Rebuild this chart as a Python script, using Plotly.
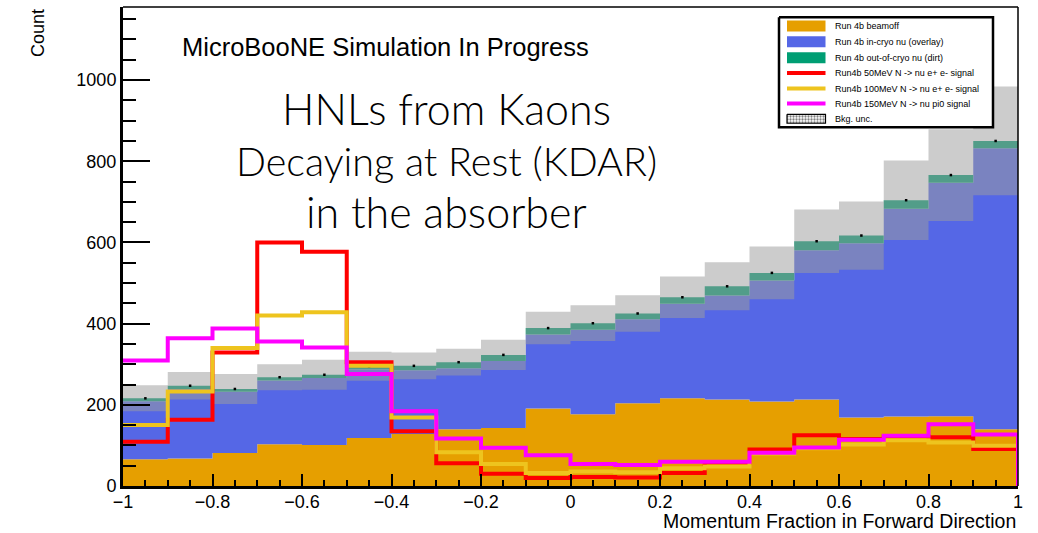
import numpy as np
import plotly.graph_objects as go

# ---- histogram contents: 20 bins of momentum fraction from -1 to 1 ----
bin_edges = [-1.0, -0.9, -0.8, -0.7, -0.6, -0.5, -0.4, -0.3, -0.2, -0.1, 0.0,
             0.1, 0.2, 0.3, 0.4, 0.5, 0.6, 0.7, 0.8, 0.9, 1.0]

beamoff = [66, 68, 81, 103, 101, 118, 128, 140, 143, 191,
           177, 204, 216, 213, 208, 213, 169, 171, 172, 140]
overlay = [143, 171, 151, 157, 165, 169, 157, 150, 165, 182,
           208, 207, 233, 256, 298, 368, 429, 512, 575, 692]
dirt = [7, 8, 7, 8, 8, 8, 11, 15, 15, 16,
        16, 14, 16, 23, 19, 22, 19, 21, 19, 18]
bkg_unc = [32, 34, 37, 32, 37, 36, 33, 33, 37, 40,
           44, 45, 51, 59, 65, 78, 84, 98, 113, 134]

sig_50 = [109, 163, 329, 600, 577, 305, 135, 56, 30, 20,
          22, 21, 32, 58, 90, 125, 116, 122, 120, 91]
sig_100 = [150, 233, 340, 420, 428, 296, 169, 83, 54, 32,
           36, 34, 44, 48, 80, 93, 102, 113, 107, 99]
sig_150 = [309, 364, 388, 356, 341, 276, 184, 117, 94, 76,
           54, 52, 60, 60, 82, 95, 114, 124, 152, 127]

x_tick_vals = [-1, -0.8, -0.6, -0.4, -0.2, 0, 0.2, 0.4, 0.6, 0.8, 1]
x_tick_text = ["\u22121", "\u22120.8", "\u22120.6", "\u22120.4", "\u22120.2",
               "0", "0.2", "0.4", "0.6", "0.8", "1"]
y_tick_vals = [0, 200, 400, 600, 800, 1000]

legend_labels = [
    "Run 4b beamoff",
    "Run 4b in-cryo nu (overlay)",
    "Run 4b out-of-cryo nu (dirt)",
    "Run4b 50MeV N -> nu e+ e- signal",
    "Run4b 100MeV N -> nu e+ e- signal",
    "Run4b 150MeV N -> nu pi0 signal",
    "Bkg. unc.",
]

C_BEAMOFF = "#E69F00"
C_OVERLAY = "#5567E6"
C_DIRT = "#009E73"
C_BAND = "rgba(157,157,157,0.52)"
C_S50 = "#FF0000"
C_S100 = "#EEC41E"
C_S150 = "#FF00FF"

FONT = "Liberation Sans, Arial, Helvetica, sans-serif"
TITLE_FONT = "Lato, Roboto, sans-serif"

edges = np.array(bin_edges)
centers = 0.5 * (edges[:-1] + edges[1:])
b = np.array(beamoff, float)
o = np.array(overlay, float)
d = np.array(dirt, float)
u = np.array(bkg_unc, float)
total = b + o + d


def stair(vals):
    """Step outline over the bin edges (for 'hv' line shape)."""
    v = list(vals)
    return list(edges), v + [v[-1]]


def open_stair(vals):
    """Step outline that drops back to the x axis after the last bin."""
    v = list(vals)
    xs = list(edges[:-1]) + [edges[-1], edges[-1]]
    ys = v + [v[-1], 0]
    return xs, ys


fig = go.Figure()

# stacked backgrounds
for top, color, fill in [(b, C_BEAMOFF, "tozeroy"),
                         (b + o, C_OVERLAY, "tonexty"),
                         (total, C_DIRT, "tonexty")]:
    xs, ys = stair(top)
    fig.add_trace(go.Scatter(x=xs, y=ys, mode="lines", line=dict(width=0, shape="hv"),
                             fill=fill, fillcolor=color, hoverinfo="skip"))

# background uncertainty band
xs, ys = stair(total - u)
fig.add_trace(go.Scatter(x=xs, y=ys, mode="lines", line=dict(width=0, shape="hv"),
                         hoverinfo="skip"))
xs, ys = stair(total + u)
fig.add_trace(go.Scatter(x=xs, y=ys, mode="lines", line=dict(width=0, shape="hv"),
                         fill="tonexty", fillcolor=C_BAND, hoverinfo="skip"))

# total prediction markers
fig.add_trace(go.Scatter(x=centers, y=total, mode="markers",
                         marker=dict(symbol="square", size=2.5, color="black"),
                         hoverinfo="skip"))

# signal histograms
for vals, color in [(sig_50, C_S50), (sig_100, C_S100), (sig_150, C_S150)]:
    xs, ys = open_stair(vals)
    fig.add_trace(go.Scatter(x=xs, y=ys, mode="lines",
                             line=dict(color=color, width=4, shape="hv"),
                             hoverinfo="skip"))

# ---- legend, laid out in pixel units on an overlay axis pair ----
PL, PR, PT, PB = 123.0, 1018.0, 6.7, 486.25


def px(xp):
    return (xp - PL) / (PR - PL)


def py(yp):
    return (PB - yp) / (PB - PT)


box = (779, 17, 993, 127)
fig.add_trace(go.Scatter(
    x=[px(box[0]), px(box[2]), px(box[2]), px(box[0]), px(box[0])],
    y=[py(box[1]), py(box[1]), py(box[3]), py(box[3]), py(box[1])],
    mode="lines", fill="toself", fillcolor="white",
    line=dict(color="black", width=2.5), xaxis="x2", yaxis="y2", hoverinfo="skip"))

row_y = [25.8, 41.6, 57.4, 72.8, 88.3, 103.4, 118.6]
sx0, sx1 = 787, 825.5
# patterned glyph for the uncertainty entry
gy = row_y[6]
fig.add_trace(go.Scatter(
    x=[px(sx0), px(sx1), px(sx1), px(sx0), px(sx0)],
    y=[py(gy - 4.5), py(gy - 4.5), py(gy + 4.5), py(gy + 4.5), py(gy - 4.5)],
    mode="lines", fill="toself", fillcolor="white",
    fillpattern=dict(shape=".", fgcolor="black", bgcolor="white", size=3, solidity=0.45),
    line=dict(color="black", width=1.2), xaxis="x2", yaxis="y2", hoverinfo="skip"))

shapes = []
for yy, color in zip(row_y[:3], [C_BEAMOFF, C_OVERLAY, C_DIRT]):
    shapes.append(dict(type="rect", xref="paper", yref="paper",
                       x0=px(sx0), x1=px(sx1), y0=py(yy - 5.5), y1=py(yy + 5.5),
                       fillcolor=color, line=dict(width=0)))
for yy, color in zip(row_y[3:6], [C_S50, C_S100, C_S150]):
    shapes.append(dict(type="line", xref="paper", yref="paper",
                       x0=px(sx0), x1=px(sx1), y0=py(yy), y1=py(yy),
                       line=dict(color=color, width=4)))

# thin frame on top and right
shapes.append(dict(type="line", xref="paper", yref="paper", x0=0, x1=1, y0=1, y1=1,
                   line=dict(color="black", width=1.5)))
shapes.append(dict(type="line", xref="paper", yref="paper", x0=1, x1=1, y0=0, y1=1,
                   line=dict(color="black", width=1.5)))

annotations = []
for yy, label in zip(row_y, legend_labels):
    annotations.append(dict(xref="paper", yref="paper", x=px(833), y=py(yy),
                            xanchor="left", yanchor="middle", showarrow=False,
                            text=label, font=dict(family=FONT, size=9, color="black")))

annotations.append(dict(xref="paper", yref="paper", x=px(180), y=py(47),
                        xanchor="left", yanchor="middle", showarrow=False,
                        text="MicroBooNE Simulation In Progress",
                        font=dict(family=FONT, size=25.5, color="black")))

for yy, line, size in zip([108, 160, 211],
                          ["HNLs from Kaons", "Decaying at Rest (KDAR)", "in the absorber"],
                          [43, 39.5, 43]):
    annotations.append(dict(xref="paper", yref="paper", x=px(446), y=py(yy),
                            xanchor="center", yanchor="middle", showarrow=False,
                            text=line,
                            font=dict(family=TITLE_FONT, size=size,
                                      weight=300, color="black")))

annotations.append(dict(xref="paper", yref="paper", x=1, y=py(521),
                        xanchor="right", yanchor="middle", showarrow=False,
                        text="Momentum Fraction in Forward Direction",
                        font=dict(family=FONT, size=19.5, color="black")))
annotations.append(dict(xref="paper", yref="paper", x=px(38), y=1,
                        xanchor="center", yanchor="top", showarrow=False,
                        textangle=-90, text="Count",
                        font=dict(family=FONT, size=18, color="black")))

fig.update_layout(
    width=1038, height=533,
    margin=dict(l=PL, r=1038 - PR, t=PT, b=533 - PB, pad=0),
    paper_bgcolor="white", plot_bgcolor="white",
    showlegend=False,
    shapes=shapes, annotations=annotations,
    xaxis=dict(range=[-1, 1], tickvals=x_tick_vals, ticktext=x_tick_text,
               ticks="inside", ticklen=12, tickwidth=2, tickcolor="black",
               showline=True, linewidth=3, linecolor="black",
               showgrid=False, zeroline=False, ticklabelstandoff=-3,
               tickfont=dict(family=FONT, size=18, color="black"),
               minor=dict(ticks="inside", ticklen=6, tickwidth=2, tickcolor="black",
                          tick0=-1, dtick=0.05, showgrid=False)),
    yaxis=dict(range=[0, 1180], tickvals=y_tick_vals,
               ticks="inside", ticklen=27, tickwidth=2, tickcolor="black",
               showline=True, linewidth=3, linecolor="black",
               showgrid=False, zeroline=False,
               tickfont=dict(family=FONT, size=18, color="black"),
               minor=dict(ticks="inside", ticklen=13, tickwidth=2, tickcolor="black",
                          tick0=0, dtick=50, showgrid=False)),
    xaxis2=dict(range=[0, 1], overlaying="x", anchor="y2", visible=False, fixedrange=True),
    yaxis2=dict(range=[0, 1], overlaying="y", anchor="x2", visible=False, fixedrange=True),
)

fig.write_html("out.html")
